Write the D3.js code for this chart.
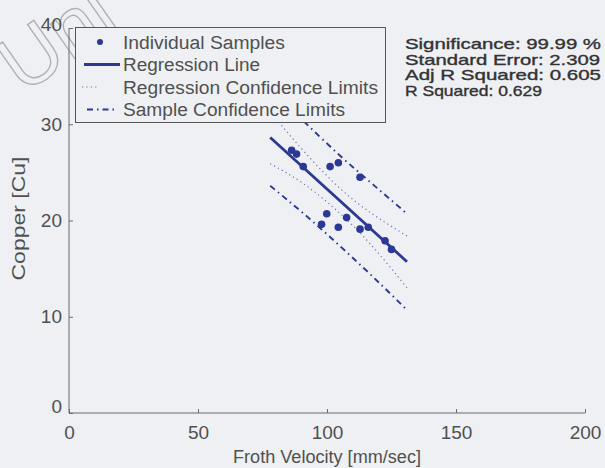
<!DOCTYPE html>
<html>
<head>
<meta charset="utf-8">
<script src="https://cdn.jsdelivr.net/npm/d3@7"></script>
<style>
  html, body { margin: 0; padding: 0; background: #eef0f3; }
  svg { display: block; }
  text { font-family: "Liberation Sans", Arial, sans-serif; }
</style>
</head>
<body>
<svg id="chart" width="605" height="468"></svg>
<script>
// Froth velocity vs. copper grade samples
const sampleVelocity = [86.3, 88.2, 90.8, 101.2, 104.4, 112.8, 99.9, 107.6, 97.9, 104.4, 112.8, 116.0, 122.5, 125.0];
const sampleCopper   = [27.3, 26.9, 25.6, 25.6, 26.0, 24.5, 20.7, 20.3, 19.6, 19.3, 19.1, 19.3, 17.9, 17.0];

// Fitted regression line end points
const fitVelocity = [78, 131];
const fitCopper   = [28.62, 15.72];

// Confidence limits, read at these velocities
const limitVelocity   = [78, 91, 105, 118, 131];
const regressionUpper = [31.3, 27.2, 23.35, 20.6, 18.4];
const regressionLower = [25.9, 23.8, 20.75, 17.2, 13.0];
const sampleUpper     = [33.6, 30.3, 26.75, 23.7, 20.7];
const sampleLower     = [23.6, 20.7, 17.35, 14.1, 10.7];

// Axis ticks
const xTicks = [0, 50, 100, 150, 200];
const yTicks = [0, 10, 20, 30, 40];

const legendLabels = ["Individual Samples", "Regression Line", "Regression Confidence Limits", "Sample Confidence Limits"];
const legendWidths = [162, 137, 255, 222];
const statsLines = ["Significance: 99.99 %", "Standard Error: 2.309", "Adj R Squared: 0.605", "R Squared: 0.629"];
const statsWidths = [196, 195, 196, 137];

const svg = d3.select("#chart");
const blue = "#2c3893";
const dotBlue = "#6a73b6";
const axisGrey = "#6b6b6b";
const textGrey = "#505050";

const x = d3.scaleLinear().domain([0, 200]).range([69, 585]);
const y = d3.scaleLinear().domain([0, 40]).range([413, 28]);

// faint watermark
svg.append("text")
  .attr("transform", "translate(23,95) rotate(-35)")
  .attr("font-size", 80)
  .attr("fill", "none")
  .attr("stroke", "rgba(60,60,70,0.35)")
  .attr("stroke-width", 1.4)
  .text("Uni");

// axes
const xAxis = d3.axisBottom(x).tickValues(xTicks).tickSize(-4).tickPadding(13).tickFormat(d3.format("d"));
const yAxis = d3.axisLeft(y).tickValues(yTicks).tickSize(-4).tickPadding(7).tickFormat(d3.format("d"));

const gx = svg.append("g").attr("transform", `translate(0,${y(0)})`).call(xAxis);
const gy = svg.append("g").attr("transform", `translate(${x(0)},0)`).call(yAxis);
[gx, gy].forEach(g => {
  g.select(".domain").attr("stroke", axisGrey).attr("stroke-width", 1);
  g.selectAll(".tick line").attr("stroke", axisGrey);
  g.selectAll(".tick text").attr("fill", textGrey).attr("font-size", 19).attr("font-family", "Liberation Sans, Arial, sans-serif");
});
gx.select(".domain").attr("d", `M${x(0)},0H${x(200)}`);
gy.select(".domain").attr("d", `M0,${y(0)}V${y(40)}`);
gy.selectAll(".tick text").filter(d => d === 0).attr("dy", "-0.05em");
gy.selectAll(".tick text").filter(d => d === 40).attr("dy", "0.15em");

// axis titles
svg.append("text")
  .attr("x", (x(0) + x(200)) / 2).attr("y", 463)
  .attr("text-anchor", "middle").attr("font-size", 18).attr("fill", textGrey)
  .attr("textLength", 188).attr("lengthAdjust", "spacingAndGlyphs")
  .text("Froth Velocity [mm/sec]");
svg.append("text")
  .attr("transform", `translate(25,${(y(0) + y(40)) / 2 - 2}) rotate(-90)`)
  .attr("text-anchor", "middle").attr("font-size", 18).attr("fill", textGrey)
  .attr("textLength", 124).attr("lengthAdjust", "spacingAndGlyphs")
  .text("Copper [Cu]");

// confidence limits
const limitLine = vals => d3.line()
  .x((d, i) => x(limitVelocity[i]))
  .y(d => y(d))
  .curve(d3.curveNatural)(vals);

[regressionUpper, regressionLower].forEach(vals => {
  svg.append("path").attr("d", limitLine(vals))
    .attr("fill", "none").attr("stroke", dotBlue).attr("stroke-width", 1.2)
    .attr("stroke-dasharray", "1.2,3.2");
});
[sampleUpper, sampleLower].forEach(vals => {
  svg.append("path").attr("d", limitLine(vals))
    .attr("fill", "none").attr("stroke", blue).attr("stroke-width", 1.9)
    .attr("stroke-dasharray", "6,4,1.5,4");
});

// regression line
svg.append("path")
  .attr("d", d3.line().x((d, i) => x(fitVelocity[i])).y(d => y(d))(fitCopper))
  .attr("fill", "none").attr("stroke", blue).attr("stroke-width", 2.8);

// samples
svg.append("g").selectAll("circle")
  .data(sampleCopper)
  .join("circle")
  .attr("cx", (d, i) => x(sampleVelocity[i]))
  .attr("cy", d => y(d))
  .attr("r", 3.8)
  .attr("fill", blue);

// legend
const lg = svg.append("g");
lg.append("rect")
  .attr("x", 75.5).attr("y", 27.5).attr("width", 310).attr("height", 95)
  .attr("fill", "#eef0f3").attr("stroke", "#555").attr("stroke-width", 1);
const rowY = [42, 64.5, 87, 109.5];
lg.selectAll("text.lab").data(legendLabels).join("text")
  .attr("class", "lab")
  .attr("x", 123).attr("y", (d, i) => rowY[i] + 6.5)
  .attr("font-size", 18).attr("fill", textGrey)
  .attr("textLength", (d, i) => legendWidths[i]).attr("lengthAdjust", "spacingAndGlyphs")
  .text(d => d);
lg.append("circle").attr("cx", 100).attr("cy", rowY[0]).attr("r", 3).attr("fill", blue);
lg.append("line").attr("x1", 84).attr("x2", 120).attr("y1", rowY[1]).attr("y2", rowY[1])
  .attr("stroke", blue).attr("stroke-width", 2.8);
lg.append("line").attr("x1", 82).attr("x2", 99).attr("y1", rowY[2]).attr("y2", rowY[2])
  .attr("stroke", dotBlue).attr("stroke-width", 1.2).attr("stroke-dasharray", "1.2,3.2");
lg.append("line").attr("x1", 87).attr("x2", 118).attr("y1", rowY[3]).attr("y2", rowY[3])
  .attr("stroke", blue).attr("stroke-width", 1.9).attr("stroke-dasharray", "6,4,1.5,4");

// fit statistics
svg.append("g").selectAll("text").data(statsLines).join("text")
  .attr("x", 405).attr("y", (d, i) => 49 + i * 15.5)
  .attr("font-size", 14.5).attr("fill", "#333")
  .attr("stroke", "#333").attr("stroke-width", 0.35)
  .attr("textLength", (d, i) => statsWidths[i]).attr("lengthAdjust", "spacingAndGlyphs")
  .text(d => d);
</script>
</body>
</html>
